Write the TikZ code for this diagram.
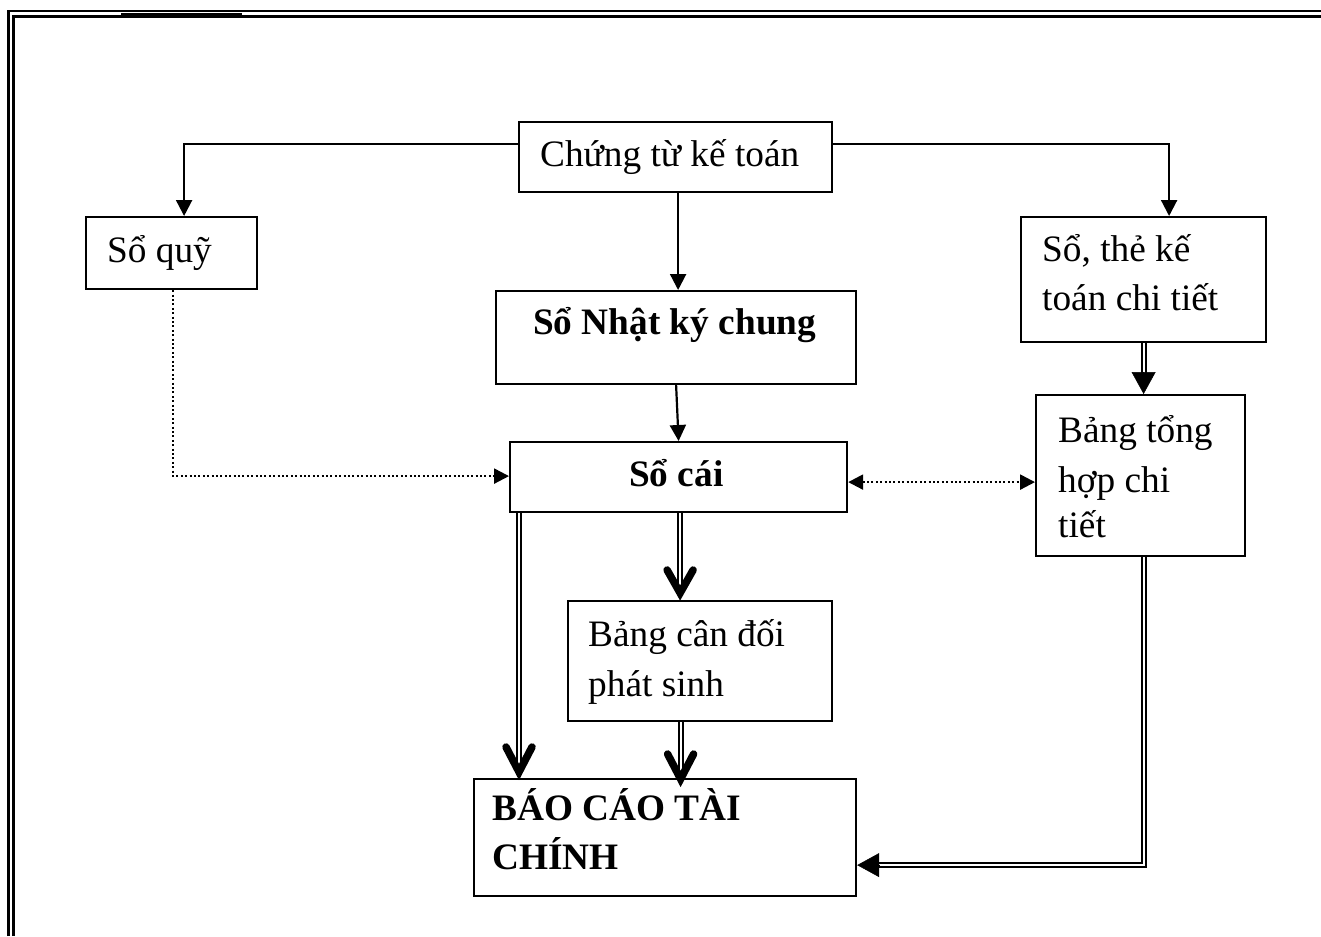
\documentclass[tikz,border=0pt]{standalone}
\usepackage{fontspec}
\setmainfont{Liberation Serif}
\usetikzlibrary{arrows.meta,calc}
\begin{document}
\begin{tikzpicture}[x=1pt,y=-1pt,
 box/.style={draw, line width=2.2pt, rectangle, inner sep=0pt, anchor=north west},
 txt/.style={inner sep=0pt, anchor=base west, font=\fontsize{37.3}{48}\selectfont},
 btxt/.style={inner sep=0pt, anchor=base west, font=\fontsize{37.3}{48}\selectfont\bfseries},
 ln/.style={line width=2.2pt},
 arr/.style={ln, -{Triangle[length=16pt,width=16pt]}},
 dotl/.style={line width=2.4pt, dash pattern=on 2pt off 2.4pt},
 darr/.style={dotl, -{Triangle[length=15pt,width=15pt]}},
 ddarr/.style={dotl, {Triangle[length=15pt,width=15pt]}-{Triangle[length=15pt,width=15pt]}},
 dbl/.style={double, double distance=2.2pt, line width=1.8pt},
 chev/.style={line width=7.5pt, line cap=round, line join=miter},
 bigtip/.style={line width=0.5pt, -{Triangle[length=22pt,width=24pt]}}
]
\useasboundingbox (0,0) rectangle (1321,936);
% page frame
\draw[line width=2.5pt] (8.5,936) -- (8.5,11) -- (1321,11);
\draw[line width=2.5pt] (13.5,936) -- (13.5,16.5) -- (1321,16.5);
\draw[line width=2pt] (121,14.5) -- (242,14.5);

% boxes
\node[box, minimum width=313pt, minimum height=70pt] (ct) at (518,121) {};
\node[box, minimum width=171pt, minimum height=72pt] (sq) at (85,216) {};
\node[box, minimum width=245pt, minimum height=125pt] (st) at (1020,216) {};
\node[box, minimum width=360pt, minimum height=93pt] (nkc) at (495,290) {};
\node[box, minimum width=337pt, minimum height=70pt] (sc) at (509,441) {};
\node[box, minimum width=209pt, minimum height=161pt] (bt) at (1035,394) {};
\node[box, minimum width=264pt, minimum height=120pt] (bcd) at (567,600) {};
\node[box, minimum width=382pt, minimum height=117pt] (bc) at (473,778) {};

% texts
\node[txt] (t1) at ([xshift=22pt,yshift=-46pt]ct.north west) {Chứng từ kế toán};
\node[txt] (t2) at ([xshift=22pt,yshift=-46pt]sq.north west) {Sổ quỹ};
\node[txt] (t3) at ([xshift=22pt,yshift=-45pt]st.north west) {Sổ, thẻ kế};
\node[txt] (t4) at ([xshift=22pt,yshift=-94pt]st.north west) {toán chi tiết};
\node[btxt] (t5) at ([xshift=38pt,yshift=-44pt]nkc.north west) {Sổ Nhật ký chung};
\node[btxt] (t6) at ([xshift=120pt,yshift=-45pt]sc.north west) {Sổ cái};
\node[txt] (t7) at ([xshift=23pt,yshift=-48pt]bt.north west) {Bảng tổng};
\node[txt] (t8) at ([xshift=23pt,yshift=-98pt]bt.north west) {hợp chi};
\node[txt] (t9) at ([xshift=23pt,yshift=-143pt]bt.north west) {tiết};
\node[txt] (t10) at ([xshift=21pt,yshift=-46pt]bcd.north west) {Bảng cân đối};
\node[txt] (t11) at ([xshift=21pt,yshift=-96pt]bcd.north west) {phát sinh};
\node[btxt] (t12) at ([xshift=19pt,yshift=-42pt]bc.north west) {BÁO CÁO TÀI};
\node[btxt] (t13) at ([xshift=19pt,yshift=-91pt]bc.north west) {CHÍNH};

% single arrows
\draw[arr] ([yshift=-23pt]ct.north west) -| ([xshift=12.5pt]sq.north);
\draw[arr] ([yshift=-23pt]ct.north east) -| ([xshift=25.5pt]st.north);
\draw[arr] ([xshift=2.5pt]ct.south) -- ([xshift=2.5pt]ct.south |- nkc.north);
\draw[arr] (nkc.south) -- (sc.north);

% dotted arrows
\draw[darr] ([xshift=1.5pt]sq.south) |- ([yshift=1pt]sc.west);
\draw[ddarr] ([yshift=-5pt]sc.east) -- ([yshift=-5pt]sc.east -| bt.west);

% double: st -> bt
\coordinate (btt) at (st.south |- bt.north);
\draw[dbl] (st.south) -- ([yshift=16pt]btt);
\draw[bigtip] ([yshift=22pt]btt) -- (btt);

% double: sc -> bcd
\coordinate (a1) at ([xshift=1.5pt]sc.south);
\coordinate (a1e) at ([yshift=7pt]a1 |- bcd.north);
\draw[dbl] (a1) -- (a1e);
\draw[chev] ([xshift=-13pt,yshift=23pt]a1e) -- (a1e) -- ([xshift=13pt,yshift=23pt]a1e);

% double: sc -> bc (left)
\coordinate (a2) at ([xshift=10pt]sc.south west);
\coordinate (a2e) at ([yshift=6pt]a2 |- bc.north);
\draw[dbl] (a2) -- (a2e);
\draw[chev] ([xshift=-13pt,yshift=25pt]a2e) -- (a2e) -- ([xshift=13pt,yshift=25pt]a2e);

% double: bcd -> bc
\coordinate (a3) at ([xshift=-19.5pt]bcd.south);
\coordinate (a3e) at ([yshift=-1pt]a3 |- bc.north);
\draw[dbl] (a3) -- (a3e);
\draw[chev] ([xshift=-13pt,yshift=25pt]a3e) -- (a3e) -- ([xshift=13pt,yshift=25pt]a3e);

% double: bt -> bc
\coordinate (a4) at ([xshift=3.5pt]bt.south);
\coordinate (a4e) at ([yshift=-27.5pt]bc.east);
\draw[dbl] (a4) |- ([xshift=16pt]a4e);
\draw[bigtip] ([xshift=22pt]a4e) -- (a4e);
\end{tikzpicture}
\end{document}
